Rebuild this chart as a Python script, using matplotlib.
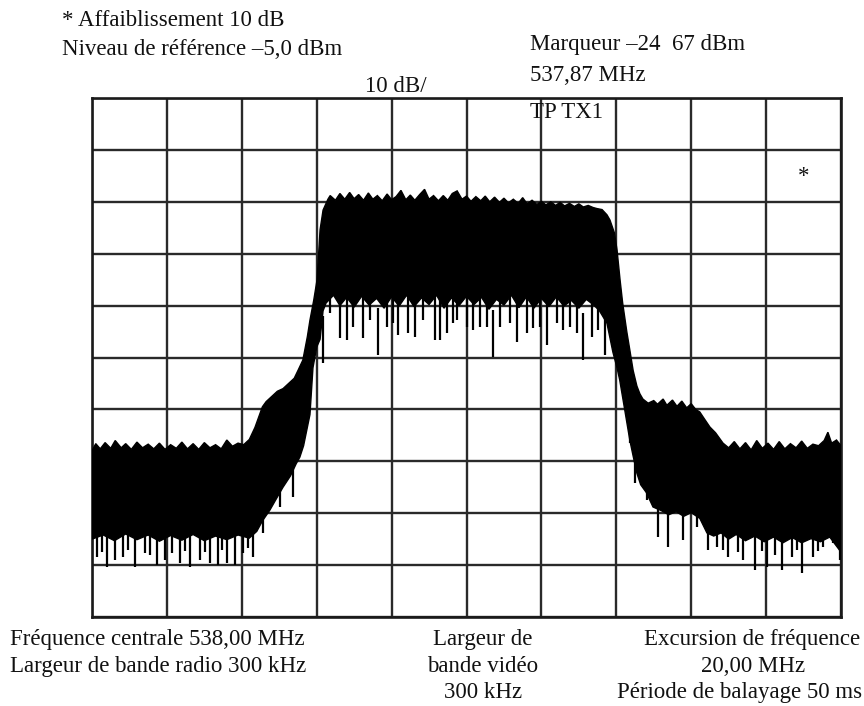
import numpy as np
import matplotlib
matplotlib.use('Agg')
import matplotlib.pyplot as plt

plt.rcParams['font.family'] = ['Liberation Serif', 'DejaVu Serif']

# Frequency axis (MHz) and level axis (dBm): centre 538 MHz, span 20 MHz, ref -5 dBm, 10 dB/div
freq_ticks = np.arange(528, 549, 2)
level_ticks = np.arange(-105, 0, 10)

# Upper edge of the trace (peak of the noise)
top_f = [528.00, 528.10, 528.22, 528.35, 528.50, 528.62, 528.78, 528.90, 529.05, 529.20,
         529.35, 529.50, 529.65, 529.80, 529.95, 530.10, 530.25, 530.40, 530.55, 530.70,
         530.85, 531.00, 531.15, 531.30, 531.45, 531.60, 531.75, 531.90, 532.05, 532.20,
         532.35, 532.45, 532.55, 532.65, 532.80, 532.95, 533.10, 533.25, 533.40, 533.50,
         533.63, 533.75, 533.82, 533.92, 534.01, 534.06, 534.09, 534.17, 534.30, 534.36,
         534.50, 534.62, 534.75, 534.88, 535.00, 535.12, 535.25, 535.38, 535.50, 535.62,
         535.75, 535.88, 536.00, 536.12, 536.25, 536.38, 536.50, 536.62, 536.75, 536.88,
         537.00, 537.12, 537.25, 537.38, 537.50, 537.62, 537.75, 537.88, 538.00, 538.12,
         538.25, 538.38, 538.50, 538.62, 538.75, 538.88, 539.00, 539.12, 539.25, 539.38,
         539.50, 539.62, 539.75, 539.88, 540.00, 540.12, 540.25, 540.38, 540.50, 540.62,
         540.75, 540.88, 541.00, 541.12, 541.25, 541.38, 541.48, 541.62, 541.75, 541.83,
         541.95, 542.02, 542.10, 542.17, 542.28, 542.36, 542.45, 542.55, 542.63, 542.71,
         542.85, 543.00, 543.10, 543.25, 543.35, 543.50, 543.62, 543.75, 543.88, 544.00,
         544.12, 544.23, 544.35, 544.50, 544.65, 544.85, 545.00, 545.15, 545.30, 545.45,
         545.60, 545.75, 545.90, 546.05, 546.20, 546.35, 546.50, 546.65, 546.80, 546.95,
         547.10, 547.25, 547.40, 547.55, 547.65, 547.75, 547.88, 548.00]
top_db = [-73.0, -71.6, -72.6, -71.4, -72.5, -71.0, -72.4, -71.6, -72.7, -71.3,
          -72.4, -71.7, -72.6, -71.5, -72.7, -71.8, -72.5, -71.3, -72.6, -71.6,
          -72.7, -71.4, -72.4, -71.8, -72.6, -70.9, -72.1, -71.5, -71.8, -70.8,
          -68.5, -66.5, -64.5, -63.5, -62.5, -61.5, -61.0, -60.0, -59.0, -57.5,
          -55.5, -51.0, -47.8, -44.0, -40.0, -34.0, -30.4, -26.6, -24.5, -23.8,
          -24.7, -23.4, -24.5, -23.2, -24.4, -23.6, -24.7, -23.3, -24.5, -23.8,
          -24.8, -23.5, -24.6, -24.0, -22.8, -24.6, -23.7, -24.7, -23.6, -22.6,
          -24.5, -23.8, -24.8, -23.8, -24.7, -23.4, -22.9, -24.5, -23.9, -24.9,
          -24.0, -24.8, -23.9, -25.0, -24.1, -25.1, -24.3, -25.2, -24.5, -25.3,
          -24.2, -25.4, -24.7, -25.5, -24.9, -25.6, -25.0, -25.7, -25.1, -25.8,
          -25.3, -25.9, -25.4, -26.0, -25.7, -26.1, -26.3, -26.5, -27.5, -28.5,
          -31.0, -34.3, -40.0, -44.5, -50.0, -53.5, -57.5, -60.5, -62.0, -63.0,
          -63.8, -63.3, -64.0, -63.0, -64.2, -63.2, -64.4, -63.4, -64.7, -63.9,
          -65.0, -65.5, -66.8, -68.4, -69.5, -71.5, -72.4, -71.2, -72.6, -71.4,
          -72.8, -71.0, -72.5, -71.5, -72.7, -71.2, -72.6, -71.6, -72.4, -71.1,
          -72.5, -71.7, -72.0, -71.0, -69.4, -71.5, -70.9, -72.0]

# Lower edge of the solid part of the trace
bot_f = [528.00, 528.30, 528.60, 528.90, 529.20, 529.50, 529.80, 530.10, 530.40, 530.70,
         531.00, 531.30, 531.60, 531.90, 532.20, 532.40, 532.55, 532.75, 532.90, 533.10,
         533.30, 533.45, 533.55, 533.65, 533.82, 533.90, 534.00, 534.09, 534.17, 534.25,
         534.45, 534.62, 534.80, 535.00, 535.20, 535.40, 535.60, 535.80, 536.00, 536.20,
         536.40, 536.60, 536.80, 537.00, 537.20, 537.40, 537.60, 537.80, 538.00, 538.20,
         538.40, 538.60, 538.80, 539.00, 539.20, 539.40, 539.60, 539.80, 540.00, 540.20,
         540.40, 540.60, 540.80, 541.00, 541.20, 541.40, 541.55, 541.75, 541.91, 542.02,
         542.09, 542.20, 542.36, 542.45, 542.55, 542.65, 542.80, 542.98, 543.20, 543.40,
         543.60, 543.80, 544.00, 544.23, 544.42, 544.60, 544.80, 545.00, 545.20, 545.45,
         545.70, 545.95, 546.20, 546.45, 546.70, 546.95, 547.20, 547.45, 547.70, 548.00]
bot_db = [-90.0, -89.2, -90.3, -89.0, -90.1, -89.2, -90.4, -89.3, -90.2, -89.1,
          -90.3, -89.4, -90.1, -89.2, -89.8, -88.5, -86.5, -84.4, -82.5, -80.0,
          -77.8, -75.5, -74.2, -72.0, -66.0, -57.0, -53.0, -51.5, -46.0, -44.5,
          -43.0, -45.0, -43.4, -45.3, -43.2, -44.9, -43.6, -45.5, -43.3, -45.1,
          -43.0, -45.2, -43.5, -44.8, -43.0, -45.5, -43.5, -45.0, -43.2, -44.8,
          -43.4, -45.7, -43.8, -44.9, -43.0, -45.4, -43.3, -45.5, -43.6, -45.2,
          -43.3, -45.1, -44.0, -45.5, -43.8, -44.9, -46.0, -48.4, -54.0, -57.0,
          -59.3, -64.0, -70.9, -74.0, -77.3, -79.5, -81.0, -83.8, -84.5, -85.3,
          -84.7, -85.6, -84.9, -86.0, -88.8, -89.4, -88.8, -90.0, -89.1, -90.3,
          -89.4, -90.5, -89.6, -90.7, -89.7, -90.7, -89.9, -90.5, -89.6, -92.5]

# Downward noise spikes (frequency, lowest level reached)
spike_f = [528.13, 528.27, 528.40, 528.61, 528.83, 528.96, 529.15, 529.42, 529.55, 529.74,
           529.95, 530.14, 530.35, 530.48, 530.62, 530.88, 531.02, 531.15, 531.36, 531.47,
           531.60, 531.82, 532.03, 532.17, 532.30, 532.57, 533.02, 533.37,
           534.17, 534.36, 534.62, 534.81, 534.97, 535.24, 535.42, 535.64, 535.88, 536.04,
           536.17, 536.44, 536.62, 536.84, 537.16, 537.29, 537.48, 537.64, 537.75, 538.01,
           538.17, 538.36, 538.55, 538.71, 538.89, 539.16, 539.35, 539.61, 539.78, 539.96,
           540.15, 540.42, 540.58, 540.76, 540.95, 541.11, 541.35, 541.51, 541.70, 541.91,
           542.36, 542.50, 542.82, 543.11, 543.38, 543.78, 544.15, 544.45, 544.69, 544.85,
           544.98, 545.25, 545.38, 545.70, 545.89, 546.02, 546.23, 546.42, 546.69, 546.82,
           546.96, 547.25, 547.38, 547.52, 547.78, 547.97]
spike_db = [-93.4, -92.5, -95.4, -94.0, -93.4, -92.0, -95.4, -92.7, -93.0, -95.0,
            -94.0, -92.7, -94.6, -92.2, -95.4, -94.0, -92.5, -94.6, -95.0, -92.0,
            -94.6, -95.0, -92.7, -91.8, -93.4, -88.8, -83.8, -81.9,
            -56.1, -46.4, -51.2, -51.6, -49.1, -51.2, -47.8, -54.5, -49.1, -48.4,
            -50.7, -50.3, -51.1, -47.8, -51.6, -51.6, -50.3, -48.4, -47.8, -49.1,
            -49.7, -49.1, -49.1, -54.9, -49.1, -48.4, -52.0, -50.3, -49.3, -49.1,
            -52.6, -48.4, -49.7, -49.1, -50.3, -55.5, -51.1, -49.7, -54.5, -52.2,
            -71.5, -79.2, -82.5, -89.6, -91.5, -90.2, -87.7, -92.1, -91.5, -92.0,
            -93.4, -92.5, -94.0, -95.9, -92.2, -95.4, -93.0, -95.9, -93.4, -92.0,
            -96.5, -93.4, -92.3, -91.5, -90.7, -94.0]

header_left = ['* Affaiblissement 10 dB', 'Niveau de référence –5,0 dBm']
marker_text = ['Marqueur –24  67 dBm', '537,87 MHz', 'TP TX1']
scale_text = '10 dB/'
footer_left = ['Fréquence centrale 538,00 MHz', 'Largeur de bande radio 300 kHz']
footer_mid = ['Largeur de', 'bande vidéo', '300 kHz']
footer_right = ['Excursion de fréquence', '20,00 MHz', 'Période de balayage 50 ms']

W, H = 864, 706
FS = 16.5


def px(x, y):
    # pixel position in the picture -> figure fraction
    return x / W, 1 - y / H


def put(fig, x, y, s, ha='left'):
    fx, fy = px(x, y)
    fig.text(fx, fy, s, ha=ha, va='baseline', fontsize=FS, color='#111111')


def draw_screen(ax):
    ax.set_xlim(freq_ticks[0], freq_ticks[-1])
    ax.set_ylim(level_ticks[0], level_ticks[-1])
    ax.set_xticks(freq_ticks)
    ax.set_yticks(level_ticks)
    ax.tick_params(length=0, labelbottom=False, labelleft=False)
    ax.set_axisbelow(True)
    ax.grid(True, color='#2a2a2a', linewidth=1.7)
    for sp in ax.spines.values():
        sp.set_linewidth(1.9)
        sp.set_color('#1a1a1a')

    # solid body of the noisy trace
    poly_f = np.concatenate([top_f, bot_f[::-1]])
    poly_db = np.concatenate([top_db, bot_db[::-1]])
    ax.fill(poly_f, poly_db, color='black', linewidth=1.0, edgecolor='black', zorder=3)

    # the downward spikes
    tips = np.array(spike_db)
    ax.vlines(spike_f, tips, tips + 9, color='black', linewidth=1.6, zorder=3)


def main():
    fig = plt.figure(figsize=(W / 100, H / 100), dpi=100)
    x0, y0 = px(92, 617)
    x1, y1 = px(841, 98)
    ax = fig.add_axes([x0, y0, x1 - x0, y1 - y0])
    draw_screen(ax)

    put(fig, 62, 26, header_left[0])
    put(fig, 62, 55, header_left[1])
    put(fig, 365, 92, scale_text)
    for s, y in zip(marker_text, [50, 81, 118]):
        put(fig, 530, y, s)
    put(fig, 804, 182, '*', ha='center')

    for s, y in zip(footer_left, [645, 672]):
        put(fig, 10, y, s)
    for s, y in zip(footer_mid, [645, 672, 698]):
        put(fig, 483, y, s, ha='center')
    for s, x, y in zip(footer_right, [752, 753, 740], [645, 672, 698]):
        put(fig, x, y, s, ha='center')

    fig.savefig('out.png', dpi=100)


if __name__ == "__main__":
    main()
